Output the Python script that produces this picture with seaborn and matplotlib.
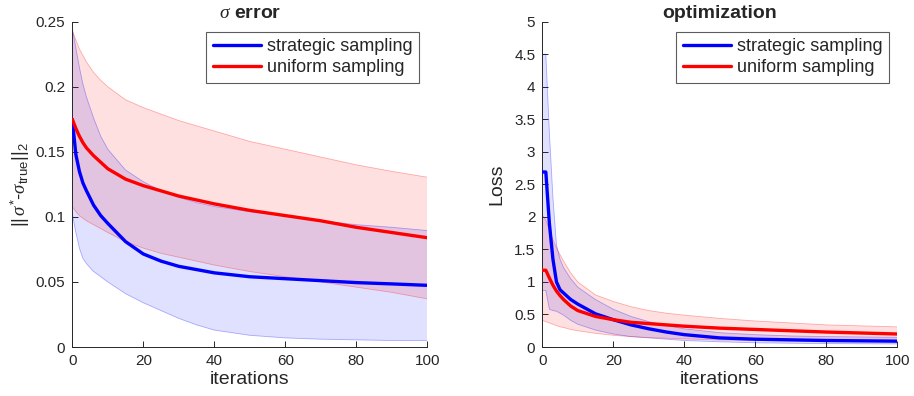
import matplotlib
matplotlib.use("Agg")
import matplotlib.pyplot as plt
import numpy as np
import pandas as pd
import seaborn as sns

sns.set_theme(style="ticks")
plt.rcParams["font.family"] = ["Liberation Sans", "DejaVu Sans"]
plt.rcParams["mathtext.fontset"] = "custom"
plt.rcParams["mathtext.rm"] = "Liberation Sans"
plt.rcParams["mathtext.it"] = "Liberation Serif:italic"

# ---- sigma error panel ----
sig_iter = [0, 1, 2, 3, 4, 6, 8, 10, 15, 20, 25, 30, 35, 40, 50, 60, 70, 80, 90, 100]
sig_strat_mean = [0.175, 0.148, 0.135, 0.126, 0.120, 0.109, 0.101, 0.095, 0.081, 0.0715, 0.066, 0.062,
                  0.0595, 0.057, 0.054, 0.0525, 0.051, 0.0495, 0.0485, 0.0474]
sig_strat_hi = [0.245, 0.230, 0.215, 0.202, 0.192, 0.176, 0.162, 0.152, 0.136, 0.127, 0.120, 0.115,
                0.111, 0.108, 0.104, 0.101, 0.097, 0.094, 0.092, 0.0895]
sig_strat_lo = [0.102, 0.088, 0.076, 0.068, 0.064, 0.058, 0.054, 0.050, 0.041, 0.034, 0.028, 0.022,
                0.017, 0.013, 0.009, 0.007, 0.006, 0.0055, 0.005, 0.005]
sig_unif_mean = [0.175, 0.168, 0.162, 0.157, 0.153, 0.147, 0.142, 0.137, 0.129, 0.124, 0.120, 0.116,
                 0.113, 0.110, 0.105, 0.101, 0.097, 0.092, 0.088, 0.084]
sig_unif_hi = [0.243, 0.236, 0.229, 0.224, 0.219, 0.211, 0.205, 0.200, 0.190, 0.184, 0.179, 0.174,
               0.170, 0.166, 0.158, 0.152, 0.146, 0.140, 0.135, 0.1305]
sig_unif_lo = [0.108, 0.104, 0.101, 0.099, 0.097, 0.094, 0.091, 0.088, 0.081, 0.076, 0.072, 0.069,
               0.066, 0.063, 0.058, 0.054, 0.050, 0.046, 0.042, 0.037]

# ---- optimization loss panel ----
loss_iter = [0, 1, 2, 3, 4, 5, 6, 8, 10, 15, 20, 25, 30, 35, 40, 50, 60, 70, 80, 90, 100]
loss_strat_mean = [2.69, 2.69, 1.90, 1.35, 1.00, 0.88, 0.83, 0.73, 0.66, 0.51, 0.42, 0.34, 0.28,
                   0.23, 0.19, 0.14, 0.12, 0.11, 0.10, 0.095, 0.09]
loss_strat_hi = [4.50, 4.50, 3.30, 2.30, 1.57, 1.35, 1.22, 1.05, 0.92, 0.73, 0.58, 0.47, 0.39,
                 0.33, 0.28, 0.22, 0.19, 0.17, 0.16, 0.155, 0.15]
loss_strat_lo = [0.87, 0.87, 0.58, 0.56, 0.55, 0.52, 0.49, 0.41, 0.35, 0.26, 0.20, 0.16, 0.14,
                 0.12, 0.10, 0.08, 0.065, 0.058, 0.053, 0.05, 0.047]
loss_unif_mean = [1.18, 1.18, 1.06, 0.95, 0.86, 0.79, 0.73, 0.63, 0.56, 0.47, 0.42, 0.38, 0.36,
                  0.34, 0.32, 0.29, 0.27, 0.25, 0.23, 0.215, 0.20]
loss_unif_hi = [2.03, 1.95, 1.80, 1.65, 1.52, 1.42, 1.32, 1.14, 1.00, 0.80, 0.70, 0.62, 0.56,
                0.52, 0.49, 0.44, 0.40, 0.37, 0.34, 0.325, 0.31]
loss_unif_lo = [0.41, 0.39, 0.37, 0.35, 0.33, 0.31, 0.30, 0.27, 0.25, 0.21, 0.18, 0.16, 0.145,
                0.135, 0.125, 0.11, 0.10, 0.095, 0.09, 0.086, 0.083]

labels = ["strategic sampling", "uniform sampling"]
BLUE = (0, 0, 1)
RED = (1, 0, 0)

fig = plt.figure(figsize=(9.14, 3.96), dpi=100)
ax1 = fig.add_axes([0.0791, 0.1237, 0.3884, 0.8215])
ax2 = fig.add_axes([0.5933, 0.1237, 0.3884, 0.8215])


def panel(ax, x, s_mean, s_hi, s_lo, u_mean, u_hi, u_lo):
    df = pd.DataFrame({
        "iterations": list(x) * 2,
        "value": list(s_mean) + list(u_mean),
        "method": [labels[0]] * len(x) + [labels[1]] * len(x),
    })
    ax.fill_between(x, s_lo, s_hi, facecolor=BLUE, alpha=0.12, edgecolor="none", zorder=1)
    ax.fill_between(x, u_lo, u_hi, facecolor=RED, alpha=0.12, edgecolor="none", zorder=1)
    for lo, hi, c in [(s_lo, s_hi, BLUE), (u_lo, u_hi, RED)]:
        ax.plot(x, lo, color=c, lw=0.6, alpha=0.3, zorder=2)
        ax.plot(x, hi, color=c, lw=0.6, alpha=0.3, zorder=2)
    sns.lineplot(data=df, x="iterations", y="value", hue="method",
                 palette={labels[0]: BLUE, labels[1]: RED}, lw=2.4, ax=ax, zorder=3)
    leg = ax.legend(loc="upper right", bbox_to_anchor=(0.976, 0.968), fontsize=13,
                    frameon=True, fancybox=False, handlelength=2.7, handletextpad=0.3,
                    borderpad=0.35, labelspacing=0.22, borderaxespad=0.0)
    leg.get_frame().set_edgecolor("#333333")
    leg.get_frame().set_linewidth(0.8)
    for h in leg.get_lines():
        h.set_linewidth(2.4)
    ax.set_xlim(0, 100)
    ax.set_xticks([0, 20, 40, 60, 80, 100])
    ax.set_xlabel("iterations", fontsize=14, labelpad=2)
    ax.tick_params(direction="in", length=4, width=0.7, labelsize=11, colors="#262626",
                   pad=5)
    for s in ("top", "right"):
        ax.spines[s].set_visible(False)
    for s in ("left", "bottom"):
        ax.spines[s].set_color("#262626")
        ax.spines[s].set_linewidth(0.7)


panel(ax1, sig_iter, sig_strat_mean, sig_strat_hi, sig_strat_lo,
      sig_unif_mean, sig_unif_hi, sig_unif_lo)
ax1.set_ylim(0, 0.25)
ax1.set_yticks([0, 0.05, 0.1, 0.15, 0.2, 0.25])
ax1.set_yticklabels(["0", "0.05", "0.1", "0.15", "0.2", "0.25"])
ax1.set_ylabel(r"$||\,\sigma^{*}$-$\sigma_{\rm true}||_2$", fontsize=13.5, labelpad=3)
ax1.set_title(r"$\sigma$ error", fontsize=14, fontweight="bold", pad=2)

panel(ax2, loss_iter, loss_strat_mean, loss_strat_hi, loss_strat_lo,
      loss_unif_mean, loss_unif_hi, loss_unif_lo)
ax2.set_ylim(0, 5)
ax2.set_yticks([0, 0.5, 1, 1.5, 2, 2.5, 3, 3.5, 4, 4.5, 5])
ax2.set_yticklabels(["0", "0.5", "1", "1.5", "2", "2.5", "3", "3.5", "4", "4.5", "5"])
ax2.set_ylabel("Loss", fontsize=14, labelpad=6)
ax2.set_title("optimization", fontsize=14, fontweight="bold", pad=2)

fig.savefig("out.png", dpi=100)
